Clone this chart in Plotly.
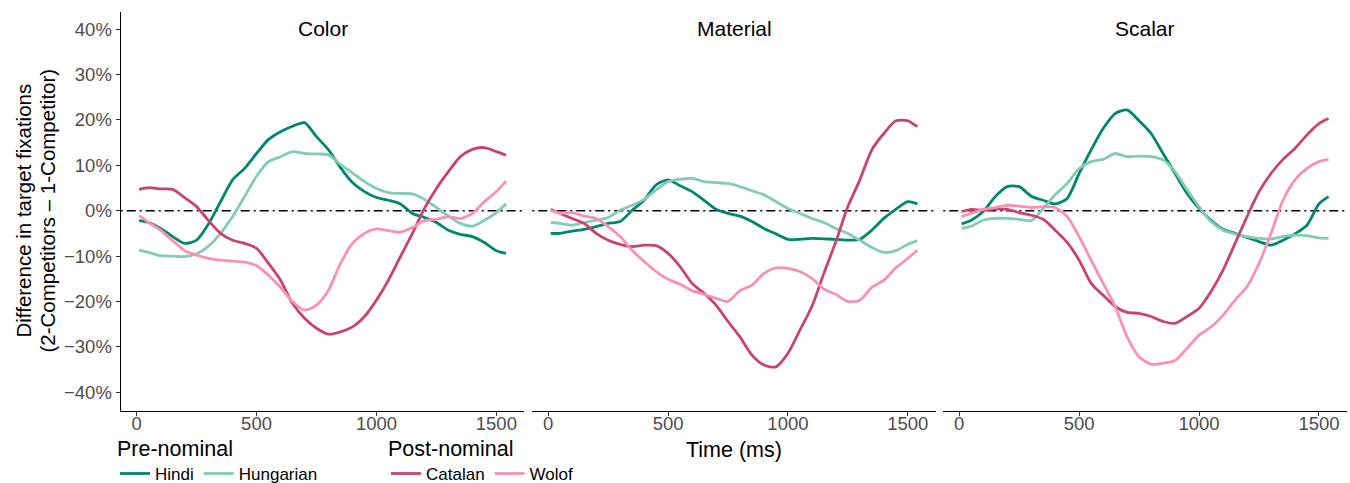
import plotly.graph_objects as go

# ---------------- data ----------------
time_ms = [10, 50, 100, 150, 200, 250, 300, 350, 400, 450, 500, 550, 600, 650, 700, 750,
           800, 850, 900, 950, 1000, 1050, 1100, 1150, 1200, 1250, 1300, 1350, 1400, 1450, 1500, 1540]

panels = ["Color", "Material", "Scalar"]
languages = ["Hindi", "Hungarian", "Catalan", "Wolof"]
groups = {"Hindi": "Pre-nominal", "Hungarian": "Pre-nominal",
          "Catalan": "Post-nominal", "Wolof": "Post-nominal"}

color_hindi = [-2.2, -2.6, -3.9, -5.7, -7.2, -6.5, -2.9, 2.0, 6.8, 9.3, 12.6, 15.7, 17.4, 18.6, 19.4, 16.3,
               13.4, 9.5, 6.2, 4.2, 2.9, 2.3, 1.5, -0.6, -1.5, -2.6, -4.3, -5.2, -5.7, -7.0, -8.8, -9.4]
color_hungarian = [-8.7, -9.2, -9.9, -10.0, -10.1, -9.5, -7.8, -5.0, -1.3, 3.1, 7.6, 10.8, 11.9, 13.0, 12.6, 12.5,
                   12.3, 10.2, 8.3, 6.4, 4.9, 4.0, 3.8, 3.7, 2.5, 0.7, -1.2, -2.8, -3.4, -2.1, -0.4, 1.5]
color_catalan = [4.7, 5.1, 4.8, 4.7, 2.9, 0.9, -2.2, -5.0, -6.5, -7.2, -8.3, -11.6, -15.3, -20.4, -23.7, -25.9,
                 -27.2, -26.7, -25.6, -23.3, -19.7, -15.3, -10.1, -5.0, 0.5, 4.9, 8.6, 11.9, 13.5, 13.9, 13.0, 12.2]
color_wolof = [-1.0, -2.6, -4.3, -6.6, -8.8, -9.8, -10.5, -10.9, -11.1, -11.3, -12.1, -14.2, -16.9, -20.0, -21.9, -20.8,
               -17.5, -11.6, -7.2, -5.0, -4.0, -4.4, -4.7, -3.7, -2.2, -1.9, -1.3, -1.7, -0.6, 2.0, 4.2, 6.5]

material_hindi = [-5.0, -5.0, -4.5, -4.1, -3.5, -2.8, -2.4, 0.1, 2.3, 5.7, 6.8, 5.5, 4.2, 2.3, 0.3, -0.6,
                  -1.2, -2.4, -3.9, -5.1, -6.3, -6.3, -6.1, -6.2, -6.3, -6.5, -6.3, -4.3, -1.7, 0.3, 2.0, 1.5]
material_hungarian = [-2.6, -2.8, -3.2, -2.6, -2.1, -1.5, 0.1, 1.2, 2.5, 4.6, 6.4, 6.9, 7.1, 6.4, 6.2, 6.0,
                      5.3, 4.4, 3.5, 2.0, 0.5, -0.6, -1.7, -2.6, -3.9, -5.0, -6.5, -8.1, -9.2, -8.8, -7.4, -6.6]
material_catalan = [0.3, -0.6, -1.7, -2.8, -5.0, -6.5, -7.4, -7.9, -7.6, -7.7, -9.4, -12.3, -16.0, -18.2, -20.8, -24.4,
                    -27.8, -31.8, -34.0, -34.4, -31.4, -26.3, -21.1, -13.8, -6.8, 0.9, 6.8, 13.4, 17.0, 19.8, 19.8, 18.5]
material_wolof = [0.1, -0.6, -0.4, -1.2, -1.7, -3.5, -5.7, -8.7, -11.2, -13.4, -15.1, -16.2, -17.6, -18.4, -19.3, -20.0,
                  -17.6, -16.4, -13.8, -12.6, -12.7, -13.4, -14.9, -17.3, -18.4, -20.0, -19.7, -16.9, -15.3, -12.6, -10.5, -8.7]

scalar_hindi = [-2.9, -2.1, -0.2, 3.1, 5.3, 5.3, 3.2, 2.3, 1.5, 2.7, 8.2, 13.4, 18.1, 21.4, 22.2, 19.8,
                17.0, 12.6, 8.2, 3.8, 0.5, -2.1, -4.1, -5.0, -5.9, -6.8, -7.6, -6.5, -5.1, -3.2, 1.5, 3.1]
scalar_hungarian = [-3.9, -3.4, -2.1, -1.7, -1.7, -1.9, -2.2, 0.5, 3.5, 6.0, 9.3, 10.8, 11.3, 12.6, 11.9, 12.0,
                    11.9, 11.2, 8.6, 4.6, 0.9, -2.4, -4.3, -5.1, -5.7, -6.1, -6.2, -5.7, -5.4, -5.5, -6.0, -6.1]
scalar_catalan = [-0.2, 0.3, 0.1, 0.4, 0.3, -0.4, -1.0, -1.9, -4.3, -7.0, -10.9, -16.0, -18.6, -21.1, -22.4, -22.6,
                  -23.3, -24.4, -24.8, -23.3, -21.5, -17.8, -13.1, -7.2, -1.3, 4.2, 8.2, 11.3, 13.7, 16.7, 19.2, 20.3]
scalar_wolof = [-1.3, -0.6, 0.3, 0.7, 1.2, 1.0, 0.7, 0.9, 0.7, -1.3, -5.7, -10.9, -16.0, -21.1, -27.8, -32.2,
                -33.8, -33.6, -33.0, -30.3, -27.4, -25.6, -23.0, -19.7, -16.7, -11.6, -5.0, 2.3, 6.8, 9.3, 10.8, 11.3]

y_tickvals = [-40, -30, -20, -10, 0, 10, 20, 30, 40]
y_ticktext = ["\u221240%", "\u221230%", "\u221220%", "\u221210%", "0%", "10%", "20%", "30%", "40%"]
x_tickvals = [0, 500, 1000, 1500]
x_ticktext = ["0", "500", "1000", "1500"]

series = {
    "Color": {"Hindi": color_hindi, "Hungarian": color_hungarian, "Catalan": color_catalan, "Wolof": color_wolof},
    "Material": {"Hindi": material_hindi, "Hungarian": material_hungarian, "Catalan": material_catalan, "Wolof": material_wolof},
    "Scalar": {"Hindi": scalar_hindi, "Hungarian": scalar_hungarian, "Catalan": scalar_catalan, "Wolof": scalar_wolof},
}

# ---------------- style ----------------
W, H = 1350, 483
FONT = "Liberation Sans, Arial, Helvetica, sans-serif"
line_colors = {"Hindi": "#00866c", "Hungarian": "#82cbb5", "Catalan": "#c8436e", "Wolof": "#f891b2"}
panel_px = [(120.7, 524.3), (532.3, 935.7), (943.3, 1346.9)]
plot_top_px, plot_bottom_px = 11.7, 410.7
x_range = [-66.5, 1616.5]
y_range = [-44.05, 43.83]

fig = go.Figure()
for i, panel in enumerate(panels):
    sfx = "" if i == 0 else str(i + 1)
    for lang in languages:
        fig.add_trace(go.Scatter(
            x=time_ms, y=series[panel][lang], mode="lines", name=lang,
            line=dict(color=line_colors[lang], width=2.8, shape="spline", smoothing=0.7),
            xaxis="x" + sfx, yaxis="y" + sfx, legendgroup=lang,
            showlegend=(i == 0),
            legend="legend" if groups[lang] == "Pre-nominal" else "legend2",
            hoverinfo="skip",
        ))

ydom = [(H - plot_bottom_px) / H, (H - plot_top_px) / H]
layout = dict(
    width=W, height=H, margin=dict(l=0, r=0, t=0, b=0, autoexpand=False),
    paper_bgcolor="white", plot_bgcolor="white",
    font=dict(family=FONT, color="black"),
    shapes=[], annotations=[],
)
for i, panel in enumerate(panels):
    sfx = "" if i == 0 else str(i + 1)
    x0, x1 = panel_px[i]
    layout["xaxis" + sfx] = dict(
        domain=[x0 / W, x1 / W], range=x_range, anchor="y" + sfx,
        showline=True, linecolor="black", linewidth=1.3, mirror=False,
        ticks="outside", ticklen=4, tickwidth=1.2, tickcolor="#333333",
        tickvals=x_tickvals, ticktext=x_ticktext, ticklabelstandoff=-8,
        tickfont=dict(size=18.5, color="#4d4d4d", family=FONT),
        showgrid=False, zeroline=False, fixedrange=True, automargin=False,
    )
    layout["yaxis" + sfx] = dict(
        domain=ydom, range=y_range, anchor="x" + sfx,
        showline=(i == 0), linecolor="black", linewidth=1.3,
        ticks="outside" if i == 0 else "", ticklen=4, tickwidth=1.2, tickcolor="#333333",
        tickvals=y_tickvals, ticktext=y_ticktext, showticklabels=(i == 0),
        tickfont=dict(size=18.5, color="#4d4d4d", family=FONT),
        showgrid=False, zeroline=False, fixedrange=True, automargin=False,
    )
    layout["shapes"].append(dict(
        type="line", xref=("x" + sfx) + " domain", x0=0, x1=1,
        yref="y" + sfx, y0=0, y1=0,
        line=dict(color="black", width=1.4, dash="2px,4px,9px,4px"), layer="below",
    ))
    layout["annotations"].append(dict(
        text=panel, xref="paper", yref="paper",
        x=(x0 + x1) / 2 / W, y=(H - 29) / H, xanchor="center", yanchor="middle",
        showarrow=False, font=dict(size=21, color="black", family=FONT),
    ))

layout["annotations"] += [
    dict(text="Difference in target fixations", xref="paper", yref="paper",
         x=22.5 / W, y=(H - 211) / H, xanchor="center", yanchor="middle", textangle=-90,
         showarrow=False, font=dict(size=20.5, color="black", family=FONT)),
    dict(text="(2-Competitors \u2013 1-Competitor)", xref="paper", yref="paper",
         x=46.5 / W, y=(H - 211) / H, xanchor="center", yanchor="middle", textangle=-90,
         showarrow=False, font=dict(size=20.5, color="black", family=FONT)),
    dict(text="Time (ms)", xref="paper", yref="paper",
         x=734 / W, y=(H - 450) / H, xanchor="center", yanchor="middle",
         showarrow=False, font=dict(size=21.5, color="black", family=FONT)),
]

common_legend = dict(
    orientation="h", xanchor="left", yanchor="top",
    y=(H - 428) / H, bgcolor="rgba(0,0,0,0)", borderwidth=0,
    font=dict(size=17, color="black", family=FONT),
    itemwidth=30, tracegroupgap=0,
)
layout["legend"] = dict(common_legend, x=115 / W,
                        title=dict(text="Pre-nominal", side="top", font=dict(size=21.5, family=FONT)))
layout["legend2"] = dict(common_legend, x=386 / W,
                         title=dict(text="Post-nominal", side="top", font=dict(size=21.5, family=FONT)))

fig.update_layout(**layout)
fig.write_html("out.html")
